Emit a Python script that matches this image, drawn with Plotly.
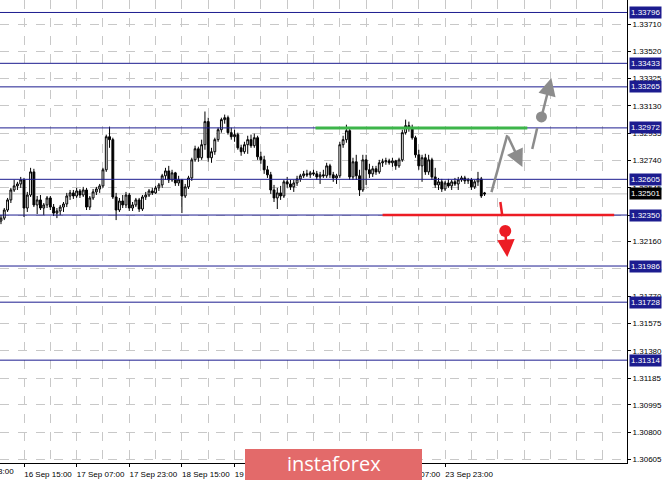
import plotly.graph_objects as go

# ---------------- data ----------------
bar_index = list(range(9, 157))  # hourly bars, index 0 = 13 Sep 23:00

opens = [1.32307,1.32328,1.32386,1.32458,1.32529,1.32558,1.32572,1.32601,1.32400,1.32493,
         1.32658,1.32422,1.32458,1.32400,1.32422,1.32472,1.32407,1.32364,1.32379,1.32407,
         1.32429,1.32486,1.32508,1.32486,1.32522,1.32493,1.32529,1.32407,1.32472,1.32515,
         1.32536,1.32558,1.32673,1.32909,1.32888,1.32479,1.32386,1.32450,1.32422,1.32493,
         1.32400,1.32422,1.32458,1.32393,1.32479,1.32493,1.32522,1.32508,1.32544,1.32565,
         1.32630,1.32665,1.32601,1.32651,1.32579,1.32601,1.32486,1.32551,1.32615,1.32744,
         1.32823,1.32759,1.32852,1.33017,1.32759,1.32802,1.32888,1.32959,1.33031,1.33045,
         1.32938,1.32909,1.32924,1.32830,1.32802,1.32852,1.32888,1.32845,1.32902,1.32766,
         1.32744,1.32673,1.32637,1.32529,1.32472,1.32508,1.32486,1.32587,1.32572,1.32551,
         1.32579,1.32608,1.32630,1.32644,1.32637,1.32651,1.32644,1.32622,1.32637,1.32630,
         1.32701,1.32637,1.32615,1.32630,1.32852,1.32888,1.32952,1.32622,1.32730,1.32630,
         1.32529,1.32744,1.32673,1.32644,1.32680,1.32658,1.32723,1.32730,1.32737,1.32723,
         1.32737,1.32701,1.32744,1.32938,1.32988,1.32967,1.32902,1.32780,1.32701,1.32759,
         1.32658,1.32744,1.32622,1.32565,1.32587,1.32536,1.32579,1.32558,1.32587,1.32572,
         1.32601,1.32615,1.32594,1.32601,1.32551,1.32587,1.32608,1.32508]

highs = [1.32350,1.32400,1.32472,1.32544,1.32601,1.32587,1.32622,1.32615,1.32515,1.32687,
         1.32680,1.32486,1.32493,1.32436,1.32486,1.32486,1.32429,1.32400,1.32422,1.32443,
         1.32508,1.32529,1.32529,1.32544,1.32536,1.32551,1.32544,1.32486,1.32536,1.32551,
         1.32572,1.32687,1.32924,1.32981,1.32902,1.32508,1.32472,1.32493,1.32515,1.32508,
         1.32443,1.32472,1.32472,1.32493,1.32515,1.32536,1.32544,1.32558,1.32579,1.32644,
         1.32687,1.32701,1.32673,1.32658,1.32630,1.32608,1.32572,1.32630,1.32759,1.32845,
         1.32838,1.32888,1.33089,1.33045,1.32830,1.32902,1.32974,1.33045,1.33067,1.33060,
         1.32974,1.32959,1.32938,1.32852,1.32873,1.32916,1.32924,1.32931,1.32916,1.32802,
         1.32773,1.32701,1.32658,1.32565,1.32544,1.32558,1.32601,1.32622,1.32601,1.32601,
         1.32630,1.32644,1.32665,1.32673,1.32665,1.32673,1.32665,1.32658,1.32673,1.32723,
         1.32716,1.32658,1.32644,1.32873,1.32916,1.32995,1.32967,1.32759,1.32780,1.32673,
         1.32780,1.32780,1.32716,1.32701,1.32701,1.32744,1.32752,1.32759,1.32752,1.32759,
         1.32744,1.32759,1.32959,1.33031,1.33017,1.32995,1.32916,1.32816,1.32780,1.32787,
         1.32780,1.32759,1.32687,1.32615,1.32608,1.32594,1.32608,1.32601,1.32615,1.32622,
         1.32630,1.32630,1.32615,1.32615,1.32601,1.32658,1.32622,1.32515]

lows = [1.32285,1.32314,1.32372,1.32436,1.32515,1.32529,1.32544,1.32336,1.32372,1.32479,
        1.32407,1.32357,1.32386,1.32350,1.32400,1.32386,1.32343,1.32328,1.32350,1.32372,
        1.32407,1.32458,1.32465,1.32472,1.32472,1.32479,1.32386,1.32386,1.32458,1.32493,
        1.32508,1.32544,1.32658,1.32830,1.32465,1.32314,1.32372,1.32400,1.32400,1.32379,
        1.32379,1.32407,1.32372,1.32379,1.32458,1.32479,1.32493,1.32501,1.32522,1.32544,
        1.32601,1.32579,1.32587,1.32558,1.32558,1.32364,1.32472,1.32536,1.32594,1.32730,
        1.32730,1.32744,1.32816,1.32730,1.32723,1.32780,1.32873,1.32938,1.33002,1.32924,
        1.32888,1.32873,1.32816,1.32773,1.32787,1.32787,1.32830,1.32830,1.32744,1.32716,
        1.32644,1.32615,1.32501,1.32443,1.32393,1.32458,1.32472,1.32544,1.32529,1.32515,
        1.32558,1.32587,1.32615,1.32622,1.32615,1.32630,1.32601,1.32572,1.32615,1.32615,
        1.32615,1.32587,1.32572,1.32615,1.32830,1.32866,1.32601,1.32601,1.32601,1.32486,
        1.32515,1.32565,1.32615,1.32622,1.32637,1.32644,1.32694,1.32709,1.32709,1.32694,
        1.32673,1.32687,1.32730,1.32924,1.32945,1.32888,1.32759,1.32673,1.32587,1.32637,
        1.32637,1.32601,1.32544,1.32529,1.32515,1.32522,1.32544,1.32529,1.32558,1.32529,
        1.32587,1.32572,1.32572,1.32529,1.32536,1.32558,1.32472,1.32486]

closes = [1.32328,1.32386,1.32458,1.32529,1.32558,1.32572,1.32601,1.32400,1.32493,1.32658,
          1.32422,1.32458,1.32400,1.32422,1.32472,1.32407,1.32364,1.32379,1.32407,1.32429,
          1.32486,1.32508,1.32486,1.32522,1.32493,1.32529,1.32407,1.32472,1.32515,1.32536,
          1.32558,1.32673,1.32909,1.32888,1.32479,1.32386,1.32450,1.32422,1.32493,1.32400,
          1.32422,1.32458,1.32393,1.32479,1.32493,1.32522,1.32508,1.32544,1.32565,1.32630,
          1.32665,1.32601,1.32651,1.32579,1.32601,1.32486,1.32551,1.32615,1.32744,1.32823,
          1.32759,1.32852,1.33017,1.32759,1.32802,1.32888,1.32959,1.33031,1.33045,1.32938,
          1.32909,1.32924,1.32830,1.32802,1.32852,1.32888,1.32845,1.32902,1.32766,1.32744,
          1.32673,1.32637,1.32529,1.32472,1.32508,1.32486,1.32587,1.32572,1.32551,1.32579,
          1.32608,1.32630,1.32644,1.32637,1.32651,1.32644,1.32622,1.32637,1.32630,1.32701,
          1.32637,1.32615,1.32630,1.32852,1.32888,1.32952,1.32622,1.32730,1.32630,1.32529,
          1.32744,1.32673,1.32644,1.32680,1.32658,1.32723,1.32730,1.32737,1.32723,1.32737,
          1.32701,1.32744,1.32938,1.32988,1.32967,1.32902,1.32780,1.32701,1.32759,1.32658,
          1.32744,1.32622,1.32565,1.32587,1.32536,1.32579,1.32558,1.32587,1.32572,1.32601,
          1.32615,1.32594,1.32601,1.32551,1.32587,1.32608,1.32486,1.32501]

# date axis labels (bar index -> label)
date_tick_index = [16, 32, 48, 64, 80, 96, 112, 128, 144]
date_tick_text = ["16 Sep 15:00", "17 Sep 07:00", "17 Sep 23:00", "18 Sep 15:00",
                  "19 Sep 07:00", "19 Sep 23:00", "20 Sep 15:00", "23 Sep 07:00",
                  "23 Sep 23:00"]
first_partial_label = "13 Sep 23:00"

# price axis tick labels
price_ticks = [1.33710, 1.33520, 1.33325, 1.33130, 1.32935, 1.32740, 1.32545, 1.32350,
               1.32160, 1.31965, 1.31770, 1.31575, 1.31380, 1.31185, 1.30995, 1.30800,
               1.30605]

# horizontal support / resistance levels
levels = [1.33796, 1.33433, 1.33265, 1.32972, 1.32605, 1.32350, 1.31986, 1.31728, 1.31314]
current_price = 1.32501

# target lines
green_level = 1.32972
green_span = [104.6, 169.0]
red_level = 1.32350
red_span = [125.0, 195.4]

# forecast arrows (bar index, price)
gray_path_x = [158.1, 162.9, 167.5]
gray_path_y = [1.32514, 1.32921, 1.32693]
gray_dash_x = [170.5, 172.0]
gray_dash_y = [1.32821, 1.32971]
gray_dot = (173.3, 1.33050)
gray_tip = (176.3, 1.33328)
red_dash_x = [160.8, 161.4]
red_dash_y = [1.32443, 1.32343]
red_dot = (162.3, 1.32236)
red_tip = (162.9, 1.32050)

# ---------------- figure ----------------
FONT = "Liberation Sans, Arial, sans-serif"
NAVY = "#1c1c8f"
GRAY = "#8c8c8c"
RED = "#ec1c24"
GREEN = "#3db54a"

fig = go.Figure()
fig.add_trace(go.Candlestick(
    x=bar_index, open=opens, high=highs, low=lows, close=closes,
    increasing=dict(line=dict(color="#000000", width=1), fillcolor="#ffffff"),
    decreasing=dict(line=dict(color="#000000", width=1), fillcolor="#000000"),
    whiskerwidth=0, showlegend=False, hoverinfo="skip",
))

fig.add_trace(go.Scatter(x=[gray_dot[0]], y=[gray_dot[1]], mode="markers",
                         marker=dict(size=11, color=GRAY), showlegend=False, hoverinfo="skip"))
fig.add_trace(go.Scatter(x=[red_dot[0]], y=[red_dot[1]], mode="markers",
                         marker=dict(size=12, color=RED), showlegend=False, hoverinfo="skip"))

shapes = []
shapes.append(dict(type="line", xref="paper", x0=0, x1=1, yref="y", y0=current_price,
                   y1=current_price, line=dict(color="#c4c4c4", width=1), layer="below"))
for lv in levels:
    shapes.append(dict(type="line", xref="paper", x0=0, x1=1, yref="y", y0=lv, y1=lv,
                       line=dict(color=NAVY, width=1), layer="above"))
shapes.append(dict(type="line", xref="x", x0=green_span[0], x1=green_span[1], yref="y",
                   y0=green_level, y1=green_level, line=dict(color=GREEN, width=3)))
shapes.append(dict(type="line", xref="x", x0=red_span[0], x1=red_span[1], yref="y",
                   y0=red_level, y1=red_level, line=dict(color=RED, width=2.5)))
shapes.append(dict(type="line", xref="x", yref="y", x0=gray_path_x[0], y0=gray_path_y[0],
                   x1=gray_path_x[1], y1=gray_path_y[1], line=dict(color=GRAY, width=2.5)))
shapes.append(dict(type="line", xref="x", yref="y", x0=gray_dash_x[0], y0=gray_dash_y[0],
                   x1=gray_dash_x[1], y1=gray_dash_y[1], line=dict(color=GRAY, width=2.5)))
shapes.append(dict(type="line", xref="x", yref="y", x0=red_dash_x[0], y0=red_dash_y[0],
                   x1=red_dash_x[1], y1=red_dash_y[1], line=dict(color=RED, width=2.5)))
shapes.append(dict(type="rect", xref="paper", yref="paper", x0=245 / 627, x1=422 / 627,
                   y0=(463 - 449) / 463, y1=(463 - 482) / 463,
                   fillcolor="#e36a6a", line=dict(width=0), layer="above"))

annotations = []
for lv in levels:
    annotations.append(dict(xref="paper", x=1, xanchor="left", xshift=2, yref="y", y=lv,
                            yanchor="middle", text=f"{lv:.5f}", showarrow=False,
                            bgcolor=NAVY, borderpad=1,
                            font=dict(family=FONT, size=8, color="#ffffff")))
annotations.append(dict(xref="paper", x=1, xanchor="left", xshift=2, yref="y", y=current_price,
                        yanchor="middle", text=f"{current_price:.5f}", showarrow=False,
                        bgcolor="#000000", borderpad=1,
                        font=dict(family=FONT, size=8, color="#ffffff")))
annotations.append(dict(x=gray_path_x[2], y=gray_path_y[2], ax=gray_path_x[1], ay=gray_path_y[1],
                        xref="x", yref="y", axref="x", ayref="y", text="", showarrow=True,
                        arrowhead=2, arrowsize=1.4, arrowwidth=2.5, arrowcolor=GRAY))
annotations.append(dict(x=gray_tip[0], y=gray_tip[1], ax=gray_dot[0], ay=gray_dot[1],
                        xref="x", yref="y", axref="x", ayref="y", text="", showarrow=True,
                        arrowhead=2, arrowsize=1.4, arrowwidth=2.5, arrowcolor=GRAY))
annotations.append(dict(x=red_tip[0], y=red_tip[1], ax=red_dot[0], ay=red_dot[1],
                        xref="x", yref="y", axref="x", ayref="y", text="", showarrow=True,
                        arrowhead=2, arrowsize=1.4, arrowwidth=2.5, arrowcolor=RED))
annotations.append(dict(xref="paper", x=0, xanchor="right", xshift=16, yref="paper", y=0,
                        yanchor="top", yshift=-2, text=first_partial_label, showarrow=False,
                        font=dict(family=FONT, size=8, color="#000000")))
annotations.append(dict(xref="paper", x=(245 + 422) / 2 / 627, xanchor="center",
                        yref="paper", y=(463 - 464) / 463, yanchor="middle",
                        text="instaforex", showarrow=False,
                        font=dict(family="Open Sans, sans-serif", size=20, color="#ffffff")))

fig.update_layout(
    template="none",
    width=665, height=480,
    margin=dict(l=0, r=38, t=0, b=17, pad=0),
    paper_bgcolor="#ffffff", plot_bgcolor="#ffffff",
    showlegend=False,
    boxgap=0.2,
    shapes=shapes,
    annotations=annotations,
    font=dict(family=FONT, size=8, color="#000000"),
    xaxis=dict(
        range=[8.7, 199.3], rangeslider=dict(visible=False), automargin=False,
        tickmode="array", tickvals=date_tick_index, ticktext=date_tick_text,
        ticks="outside", ticklen=3, tickcolor="#000000", ticklabelshift=24,
        tickfont=dict(family=FONT, size=8, color="#000000"),
        showline=True, linecolor="#000000", linewidth=1, zeroline=False,
        showgrid=True, gridcolor="#c8c8c8", griddash="dash", gridwidth=1,
        minor=dict(tickvals=list(range(0, 208, 8)), showgrid=True, gridcolor="#c8c8c8",
                   griddash="dash", gridwidth=1, ticks=""),
        fixedrange=True,
    ),
    yaxis=dict(
        range=[1.30580, 1.33885], side="right", automargin=False,
        tickmode="array", tickvals=price_ticks, ticktext=[f"{v:.5f}" for v in price_ticks],
        ticks="outside", ticklen=3, tickcolor="#000000",
        tickfont=dict(family=FONT, size=8, color="#000000"),
        showline=True, linecolor="#000000", linewidth=1, zeroline=False,
        showgrid=True, gridcolor="#c8c8c8", griddash="dash", gridwidth=1,
        fixedrange=True,
    ),
)

fig.write_html("out.html", config={"displayModeBar": False},
               post_script="document.body.style.margin='0';document.body.style.overflow='hidden';")
